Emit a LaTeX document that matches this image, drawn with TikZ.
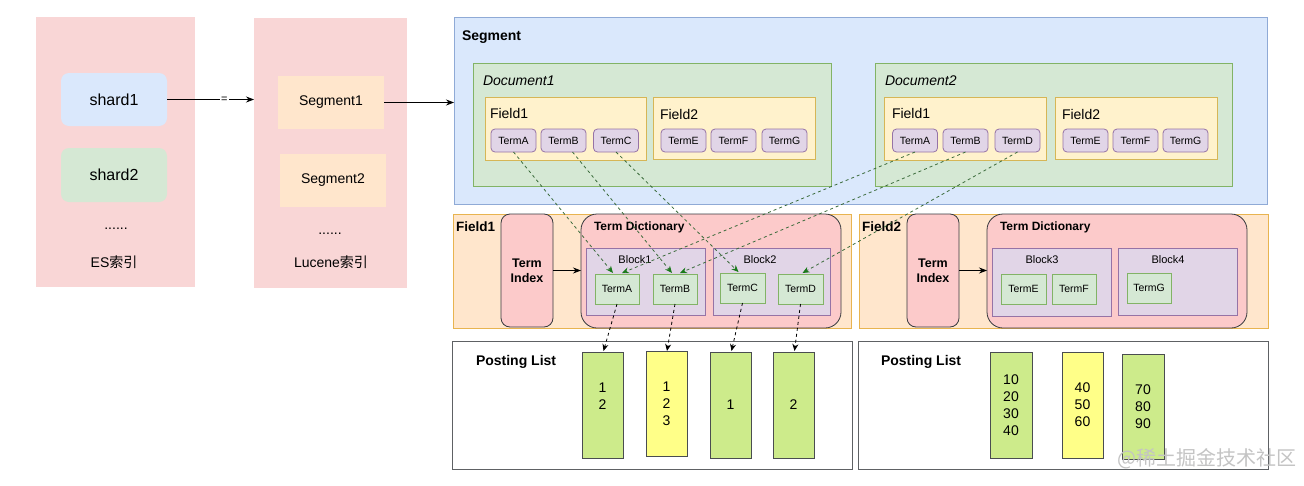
\documentclass[tikz,border=0pt]{standalone}
\usepackage{fontspec}
\setmainfont{Liberation Sans}
\newfontfamily\cjk{Noto Sans CJK SC}
\usetikzlibrary{arrows.meta,calc}
\definecolor{esbg}{HTML}{F9D6D6}
\definecolor{blueF}{HTML}{DAE8FC}
\definecolor{blueD}{HTML}{8FAAD6}
\definecolor{greenF}{HTML}{D5E8D4}
\definecolor{greenD}{HTML}{82B366}
\definecolor{yelF}{HTML}{FFF2CC}
\definecolor{yelD}{HTML}{D6B656}
\definecolor{purF}{HTML}{E1D5E7}
\definecolor{purD}{HTML}{9673A6}
\definecolor{orF}{HTML}{FFE6CC}
\definecolor{orD}{HTML}{E8B450}
\definecolor{redF}{HTML}{FCCACA}
\definecolor{darkD}{HTML}{36393D}
\definecolor{plG}{HTML}{CDEB8B}
\definecolor{plY}{HTML}{FFFF88}
\definecolor{dashG}{HTML}{3B6B3B}
\definecolor{tipG}{HTML}{1A7A1A}
\definecolor{wmark}{HTML}{C4C4C4}
\newcommand\fs[2]{\fontsize{#1}{#2}\selectfont}
\begin{document}
\begin{tikzpicture}[x=1pt,y=-1pt,
  every node/.style={inner sep=0pt,outer sep=0pt},
  idxbox/.style={fill=esbg},
  shardbox/.style={rounded corners=8pt, minimum width=106pt, minimum height=53pt, font=\fs{16}{19}},
  segsmall/.style={fill=orF, minimum width=106pt, minimum height=53pt, font=\fs{14}{17}},
  docbox/.style={fill=greenF, draw=greenD, line width=0.8pt, minimum width=358pt, minimum height=123pt},
  dfield/.style={fill=yelF, draw=yelD, line width=0.8pt, minimum width=162pt, minimum height=63pt},
  dterm/.style={fill=purF, draw=purD, line width=0.8pt, rounded corners=4pt, minimum width=45pt, minimum height=23pt, font=\fs{10.5}{12}},
  band/.style={fill=orF, draw=orD, line width=0.8pt, minimum height=114pt},
  tindex/.style={fill=redF, draw=darkD, line width=0.8pt, rounded corners=9pt, minimum width=52pt, minimum height=113pt, align=center, font=\bfseries\fs{12.5}{15}},
  tdict/.style={fill=redF, draw=darkD, line width=0.8pt, rounded corners=16pt, minimum width=260pt, minimum height=114pt},
  blockbox/.style={fill=purF, draw=purD, line width=0.8pt, minimum height=67pt},
  bterm/.style={fill=greenF, draw=greenD, line width=0.8pt, minimum width=44pt, minimum height=30pt, font=\fs{10.5}{12}},
  postbox/.style={fill=white, draw=darkD!80, line width=0.8pt, minimum height=128pt},
  plist/.style={draw=darkD!90, line width=0.7pt, minimum width=41pt, minimum height=106pt, align=center, font=\fs{14}{17}},
  lbl/.style={anchor=west},
  solidarrow/.style={draw=black, line width=0.8pt, -{Stealth[length=8pt,width=6pt]}},
  greenarrow/.style={draw=dashG, line width=0.8pt, dash pattern=on 3pt off 3pt, -{Stealth[length=7pt,width=6pt,color=tipG,fill=tipG]}},
  blackarrow/.style={draw=black, line width=0.8pt, dash pattern=on 3pt off 3pt, -{Stealth[length=7pt,width=6pt]}}
]
\useasboundingbox (0,0) rectangle (1304,485);

% ---- ES index ----
\node[idxbox, minimum width=159pt, minimum height=270pt] (es) at (115.5,152) {};
\node[shardbox, fill=blueF] (shard1) at (114,99.5) {shard1};
\node[shardbox, fill=greenF, minimum height=54pt] (shard2) at (114,175) {shard2};
\node[font=\fs{14}{17}] (esdots) at (116,229) {......};
\node[font=\fs{14}{17}] (eslbl) at (114,262) {ES{\cjk 索引}};

% ---- Lucene index ----
\node[idxbox, minimum width=153pt, minimum height=270pt] (lucene) at (330.5,153) {};
\node[segsmall] (seg1) at (331,102.5) {Segment1};
\node[segsmall] (seg2) at (333,180.5) {Segment2};
\node[font=\fs{14}{17}] (ludots) at (330,234) {......};
\node[font=\fs{14}{17}] (lulbl) at (331,262) {Lucene{\cjk 索引}};

% ---- Segment ----
\node[fill=blueF, draw=blueD, line width=0.8pt, minimum width=813pt, minimum height=187pt] (segbox) at (860.5,110.5) {};
\node[lbl, font=\bfseries\fs{14}{17}] (seglbl) at (462,37) {Segment};

\node[docbox] (doc1) at (652,124.5) {};
\node[lbl, font=\itshape\fs{14}{17}] (doc1lbl) at (483,81) {Document1};
\node[docbox, minimum width=357pt] (doc2) at (1053.5,124.5) {};
\node[lbl, font=\itshape\fs{14}{17}] (doc2lbl) at (885,81) {Document2};

\node[dfield, minimum width=161pt] (d1f1) at (565.5,128.5) {};
\node[lbl, font=\fs{14}{17}] (d1f1lbl) at (490,113) {Field1};
\node[dfield, minimum height=62pt] (d1f2) at (734,128) {};
\node[lbl, font=\fs{14}{17}] (d1f2lbl) at (660,114) {Field2};
\node[dfield] (d2f1) at (965,128.5) {};
\node[lbl, font=\fs{14}{17}] (d2f1lbl) at (892,113) {Field1};
\node[dfield, minimum height=62pt] (d2f2) at (1136,128) {};
\node[lbl, font=\fs{14}{17}] (d2f2lbl) at (1062,114) {Field2};

\node[dterm] (d1A) at (513.5,140.5) {TermA};
\node[dterm] (d1B) at (563.5,140.5) {TermB};
\node[dterm] (d1C) at (616,140.5) {TermC};
\node[dterm] (d1E) at (683.5,140.5) {TermE};
\node[dterm] (d1F) at (733.5,140.5) {TermF};
\node[dterm] (d1G) at (784.5,140.5) {TermG};
\node[dterm] (d2A) at (915,140.5) {TermA};
\node[dterm] (d2B) at (965.5,140.5) {TermB};
\node[dterm] (d2D) at (1017.5,140.5) {TermD};
\node[dterm] (d2E) at (1085.5,140.5) {TermE};
\node[dterm] (d2F) at (1135.5,140.5) {TermF};
\node[dterm] (d2G) at (1185.5,140.5) {TermG};

% ---- Field1 band ----
\node[band, minimum width=398pt] (band1) at (652,271) {};
\node[lbl, font=\bfseries\fs{13.5}{16}] (band1lbl) at (456,227) {Field1};
\node[tindex] (ti1) at (527,270.5) {Term\\Index};
\node[tdict] (td1) at (711,271) {};
\node[lbl, font=\bfseries\fs{12}{14}] (td1lbl) at (594,227) {Term Dictionary};
\node[blockbox, minimum width=119pt] (blk1) at (645.5,281.5) {};
\node[font=\fs{11}{13}] (blk1lbl) at (635,260) {Block1};
\node[blockbox, minimum width=117pt] (blk2) at (771.5,281.5) {};
\node[font=\fs{11}{13}] (blk2lbl) at (760,260) {Block2};
\node[bterm] (bA) at (617,289) {TermA};
\node[bterm] (bB) at (675,289) {TermB};
\node[bterm, minimum width=45pt] (bC) at (742.5,288) {TermC};
\node[bterm, minimum width=45pt] (bD) at (800.5,289) {TermD};

% ---- Field2 band ----
\node[band, minimum width=409pt] (band2) at (1063.5,271) {};
\node[lbl, font=\bfseries\fs{13.5}{16}] (band2lbl) at (862,227) {Field2};
\node[tindex] (ti2) at (933,270.5) {Term\\Index};
\node[tdict] (td2) at (1117,271) {};
\node[lbl, font=\bfseries\fs{12}{14}] (td2lbl) at (1000,227) {Term Dictionary};
\node[blockbox, minimum width=119pt, minimum height=68pt] (blk3) at (1051.5,282) {};
\node[font=\fs{11}{13}] (blk3lbl) at (1042,260) {Block3};
\node[blockbox, minimum width=119pt] (blk4) at (1177.5,281.5) {};
\node[font=\fs{11}{13}] (blk4lbl) at (1168,260) {Block4};
\node[bterm, minimum width=45pt] (bE) at (1023.5,289) {TermE};
\node[bterm] (bF) at (1074,289) {TermF};
\node[bterm] (bG) at (1149,288) {TermG};

% ---- Posting lists ----
\node[postbox, minimum width=400pt] (post1) at (652,405) {};
\node[lbl, font=\bfseries\fs{14}{17}] (post1lbl) at (476,362) {Posting List};
\node[postbox, minimum width=410pt] (post2) at (1063,405) {};
\node[lbl, font=\bfseries\fs{14}{17}] (post2lbl) at (881,362) {Posting List};

\node[plist, fill=plG] (pl1) at (602.5,405) {1\\2\\[0pt]};
\node[plist, fill=plY, minimum height=105pt] (pl2) at (666.5,403.5) {1\\2\\3};
\node[plist, fill=plG] (pl3) at (730.5,405) {1};
\node[plist, fill=plG] (pl4) at (793.5,405) {2};
\node[plist, fill=plG, minimum width=42pt] (pl5) at (1011,405) {10\\20\\30\\40};
\node[plist, fill=plY] (pl6) at (1082.5,405) {40\\50\\60};
\node[plist, fill=plG, minimum width=42pt, minimum height=105pt] (pl7) at (1143,406.5) {70\\80\\90};

\node[font=\cjk\fs{20}{24}, text=wmark] (wm) at (1207,459) {@稀土掘金技术社区};

% ---- Solid arrows ----
\draw[solidarrow] (shard1.east) -- node[pos=0.66, fill=white, inner sep=1.5pt, font=\fs{11}{13}] (eq) {=} (shard1.east -| lucene.west);
\draw[solidarrow] (seg1.east) -- (seg1.east -| segbox.west);
\draw[solidarrow] (ti1.east) -- (ti1.east -| td1.west);
\draw[solidarrow] (ti2.east) -- (ti2.east -| td2.west);

% ---- Dashed green arrows ----
\draw[greenarrow] (d1A.south) -- ($(bA.north)+(-4,-1)$);
\draw[greenarrow] ($(d1B.south)+(9,0)$) -- ($(bB.north)+(-3,-1)$);
\draw[greenarrow] (d1C.south) -- ($(bC.north)+(-4,-1)$);
\draw[greenarrow] (d2A.south) -- ($(bA.north)+(5,-1)$);
\draw[greenarrow] (d2B.south) -- ($(bB.north)+(5,-1)$);
\draw[greenarrow] (d2D.south) -- ($(bD.north)+(2,-1)$);

% ---- Dashed black arrows ----
\draw[blackarrow] (bA.south) -- ($(pl1.north)+(1,-1)$);
\draw[blackarrow] (bB.south) -- ($(pl2.north)+(0.5,0)$);
\draw[blackarrow] (bC.south) -- ($(pl3.north)+(1,-1)$);
\draw[blackarrow] (bD.south) -- ($(pl4.north)+(1,-1)$);
\end{tikzpicture}
\end{document}
